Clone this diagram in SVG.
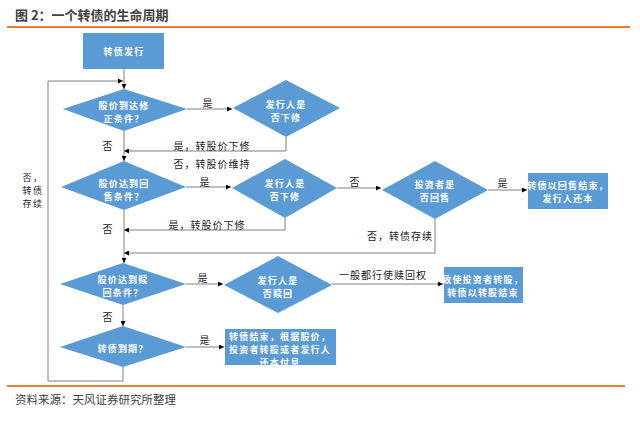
<svg xmlns="http://www.w3.org/2000/svg" width="640" height="427" viewBox="0 0 640 427">
<defs>
<marker id="arr" viewBox="0 0 10 10" refX="10" refY="5" markerWidth="5" markerHeight="5" orient="auto">
<path d="M0,0 L10,5 L0,10 z" fill="#000"/>
</marker>
<style>
.n{fill:#5B9BD5;stroke:none}
.nt{font-family:"Noto Sans CJK SC",sans-serif;font-size:9px;font-weight:bold;fill:#fff;text-anchor:middle;dominant-baseline:central;letter-spacing:1.2px}
.lb{font-family:"Noto Sans CJK SC",sans-serif;font-size:10px;fill:#222;text-anchor:middle;dominant-baseline:central;letter-spacing:1px}
.lb9{font-family:"Noto Sans CJK SC",sans-serif;font-size:9px;fill:#222;text-anchor:middle;dominant-baseline:central;letter-spacing:1.5px}
.ca{fill:none;stroke:#7f7f7f;stroke-width:1;marker-end:url(#arr)}
.rule{stroke:#ED7D31;stroke-width:2}
</style>
</defs>
<rect width="640" height="427" fill="#fff"/>
<text x="15" y="14" font-family="Noto Sans CJK SC,sans-serif" font-size="13" font-weight="bold" fill="#404040" dominant-baseline="central">图 2：一个转债的生命周期</text>
<line class="rule" x1="7" y1="27" x2="630" y2="27"/>
<line class="rule" x1="7" y1="386" x2="625" y2="386"/>
<text x="15" y="399" font-family="Noto Sans CJK SC,sans-serif" font-size="11.5" fill="#404040" dominant-baseline="central">资料来源：天风证券研究所整理</text>

<g id="connectors">
<path class="ca" d="M124,69 V89"/>
<path class="ca" d="M187,109 H232"/>
<path class="ca" d="M286,137 V151 H124"/>
<path class="ca" d="M124,131 V161"/>
<path class="ca" d="M186,187 H231"/>
<path class="ca" d="M285,218 V230 H124"/>
<path class="ca" d="M337,188 H381"/>
<path class="ca" d="M488,190 H527"/>
<path class="ca" d="M435,219 V253 H124"/>
<path class="ca" d="M124,210 V263"/>
<path class="ca" d="M186,284 H223"/>
<path class="ca" d="M332,284 H443"/>
<path class="ca" d="M123,305 V326"/>
<path class="ca" d="M186,347 H224"/>
<path class="ca" d="M123,367 V381 H48 V81 H123"/>
</g>

<g id="labels">
<text class="lb" x="208" y="102">是</text>
<text class="lb" x="212" y="145">是，转股价下修</text>
<text class="lb" x="108" y="145">否</text>
<text class="lb" x="212" y="163">否，转股价维持</text>
<text class="lb" x="205" y="181">是</text>
<text class="lb" x="355" y="181">否</text>
<text class="lb" x="503" y="182">是</text>
<text class="lb" x="207" y="224">是，转股价下修</text>
<text class="lb" x="108" y="228">否</text>
<text class="lb" x="400" y="235">否，转债存续</text>
<text class="lb" x="203" y="277">是</text>
<text class="lb" x="383" y="274">一般都行使赎回权</text>
<text class="lb" x="108" y="316">否</text>
<text class="lb" x="205" y="339">是</text>
<text class="lb9" y="177"><tspan x="33">否，</tspan><tspan x="33" dy="13">转债</tspan><tspan x="33" dy="13">存续</tspan></text>
</g>

<g id="n1"><rect class="n" x="83" y="33" width="81" height="36"/><text class="nt" x="124" y="51">转债发行</text></g>
<g id="d1"><polygon class="n" points="63,109 124,89 187,109 124,131"/><text class="nt" y="105"><tspan x="124">股价到达修</tspan><tspan x="124" dy="13">正条件？</tspan></text></g>
<g id="d2"><polygon class="n" points="233,108 286,80 340,108 286,137"/><text class="nt" y="104"><tspan x="286">发行人是</tspan><tspan x="286" dy="13">否下修</tspan></text></g>
<g id="d3"><polygon class="n" points="61,187 124,161 186,187 124,210"/><text class="nt" y="183"><tspan x="124">股价达到回</tspan><tspan x="124" dy="13">售条件？</tspan></text></g>
<g id="d4"><polygon class="n" points="232,188 285,159 337,188 285,218"/><text class="nt" y="183"><tspan x="285">发行人是</tspan><tspan x="285" dy="13">否下修</tspan></text></g>
<g id="d5"><polygon class="n" points="382,190 435,161 488,190 435,219"/><text class="nt" y="184"><tspan x="435">投资者是</tspan><tspan x="435" dy="13">否回售</tspan></text></g>
<g id="n2"><rect class="n" x="528" y="173" width="80" height="36"/><text class="nt" y="185"><tspan x="568">转债以回售结束，</tspan><tspan x="568" dy="13">发行人还本</tspan></text></g>
<g id="d6"><polygon class="n" points="60,284 123,263 186,284 123,305"/><text class="nt" y="279"><tspan x="123">股价达到赎</tspan><tspan x="123" dy="13">回条件？</tspan></text></g>
<g id="d7"><polygon class="n" points="224,285 278,256 332,285 278,313"/><text class="nt" y="280"><tspan x="278">发行人是</tspan><tspan x="278" dy="13">否赎回</tspan></text></g>
<g id="n3"><rect class="n" x="444" y="267" width="79" height="36"/><text class="nt" y="279"><tspan x="483">致使投资者转股，</tspan><tspan x="483" dy="13">转债以转股结束</tspan></text></g>
<g id="d8"><polygon class="n" points="60,347 123,326 186,347 123,367"/><text class="nt" x="123" y="348">转债到期？</text></g>
<g id="n4"><rect class="n" x="225" y="329" width="111" height="36"/><text class="nt" y="336"><tspan x="280">转债结束，根据股价，</tspan><tspan x="280" dy="13">投资者转股或者发行人</tspan><tspan x="280" dy="13">还本付息</tspan></text></g>
</svg>
